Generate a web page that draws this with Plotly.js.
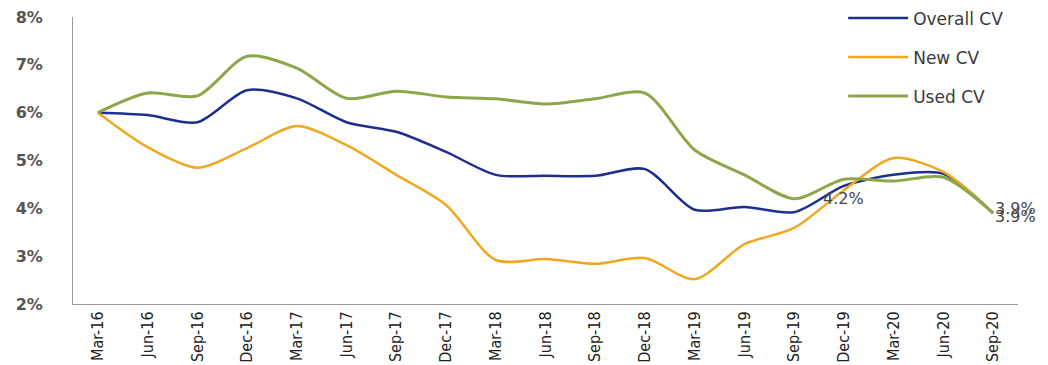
<!DOCTYPE html>
<html>
<head>
<meta charset="utf-8">
<script src="https://cdn.plot.ly/plotly-3.0.1.min.js"></script>
<style>
  html, body { margin: 0; padding: 0; background: #fff; }
  #chart { width: 1048px; height: 365px; }
</style>
</head>
<body>
<div id="chart"></div>
<script>
// Quarter labels
const quarters = ['Mar-16','Jun-16','Sep-16','Dec-16','Mar-17','Jun-17','Sep-17','Dec-17',
  'Mar-18','Jun-18','Sep-18','Dec-18','Mar-19','Jun-19','Sep-19','Dec-19','Mar-20','Jun-20','Sep-20'];

// Ratios in %
const overallCV = [6.0, 5.95, 5.8, 6.47, 6.3, 5.8, 5.6, 5.18, 4.7, 4.68, 4.68, 4.82, 3.97, 4.03, 3.92, 4.47, 4.7, 4.72, 3.9];
const newCV     = [6.0, 5.28, 4.85, 5.26, 5.72, 5.32, 4.7, 4.07, 2.92, 2.94, 2.84, 2.96, 2.52, 3.25, 3.59, 4.38, 5.05, 4.76, 3.9];
const usedCV    = [6.0, 6.41, 6.35, 7.18, 6.93, 6.3, 6.45, 6.33, 6.29, 6.18, 6.29, 6.41, 5.22, 4.7, 4.2, 4.61, 4.57, 4.65, 3.9];

const yTicks = [2, 3, 4, 5, 6, 7, 8];

function series(name, y, color, width, group) {
  return {
    type: 'scatter', mode: 'lines', name: name, x: quarters, y: y,
    line: { color: color, width: width, shape: 'spline', smoothing: 0.8 },
    legendgroup: group, hoverinfo: 'x+y'
  };
}

const traces = [
  series('Overall CV', overallCV, '#1c2f8e', 2.5, 'a'),
  series('New CV', newCV, '#f0a820', 2.5, 'b'),
  series('Used CV', usedCV, '#8ea64a', 3, 'c')
];

const labelFont = { family: 'DejaVu Sans, Verdana, sans-serif', size: 16, color: '#444' };
const iSep19 = quarters.indexOf('Sep-19');
const iLast = quarters.length - 1;

const annotations = [
  { x: quarters[iSep19], y: usedCV[iSep19], xref: 'x', yref: 'y', text: usedCV[iSep19].toFixed(1) + '%',
    showarrow: false, xanchor: 'left', xshift: 27, yshift: 0, font: labelFont },
  { x: quarters[iLast], y: usedCV[iLast], xref: 'x', yref: 'y', text: usedCV[iLast].toFixed(1) + '%',
    showarrow: false, xanchor: 'left', xshift: 0, yshift: 5, font: labelFont },
  { x: quarters[iLast], y: newCV[iLast], xref: 'x', yref: 'y', text: newCV[iLast].toFixed(1) + '%',
    showarrow: false, xanchor: 'left', xshift: 0, yshift: -3, font: labelFont }
];

const layout = {
  width: 1048, height: 365,
  margin: { l: 73, r: 30, t: 17, b: 61, autoexpand: false },
  paper_bgcolor: '#fff', plot_bgcolor: '#fff',
  showlegend: true,
  legend: {
    x: 0.815, y: 1.058, xanchor: 'left', yanchor: 'top',
    bgcolor: 'rgba(0,0,0,0)', tracegroupgap: 14, itemwidth: 60,
    font: { family: 'DejaVu Sans, Verdana, sans-serif', size: 17, color: '#3a3a3a' }
  },
  xaxis: {
    type: 'category', range: [-0.5, quarters.length - 0.5],
    showgrid: false, zeroline: false, showline: true, linecolor: '#999', linewidth: 1,
    ticks: '', tickangle: -90,
    tickfont: { family: 'Liberation Sans Narrow, DejaVu Sans Condensed, sans-serif', size: 16, color: '#222' }
  },
  yaxis: {
    range: [2, 8], tickvals: yTicks, ticktext: yTicks.map(v => '<b>' + v + '%</b>'),
    showgrid: false, zeroline: false, showline: true, linecolor: '#999', linewidth: 1,
    ticks: '', ticklabelstandoff: 26,
    tickfont: { family: 'DejaVu Sans, Verdana, sans-serif', size: 16, color: '#555' }
  },
  annotations: annotations
};

Plotly.newPlot('chart', traces, layout, { displayModeBar: false, staticPlot: true });
</script>
</body>
</html>
